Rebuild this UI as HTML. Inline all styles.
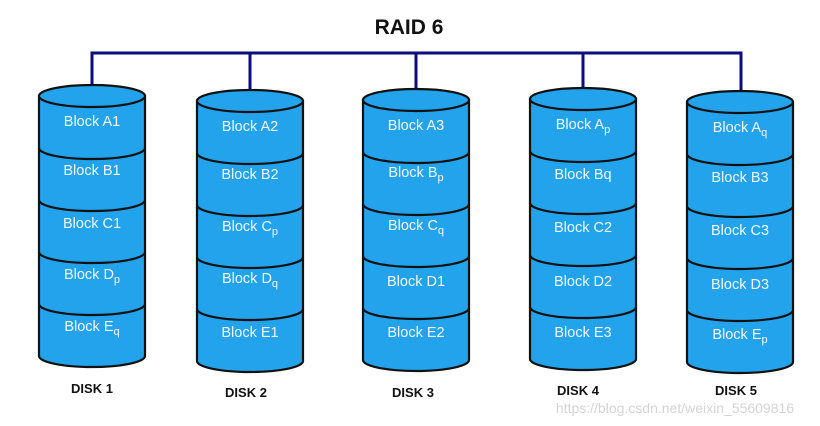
<!DOCTYPE html>
<html><head><meta charset="utf-8"><style>
html,body{margin:0;padding:0;background:#fff;}
svg{display:block;}
.b{fill:#22a3eb;stroke:#111;stroke-width:2.2;}
.d{fill:none;stroke:#111;stroke-width:2.2;}
.t{font-family:"Liberation Sans",sans-serif;font-size:14.5px;fill:#f2f8ff;text-anchor:middle;}
.s{font-size:11px;}
.l{font-family:"Liberation Sans",sans-serif;font-size:13px;font-weight:bold;fill:#111;text-anchor:middle;}
</style></head><body>
<svg width="820" height="426" viewBox="0 0 820 426">
<text x="409" y="34" font-family="Liberation Sans,sans-serif" font-size="21" font-weight="bold" fill="#111" text-anchor="middle">RAID 6</text>
<g stroke="#0c0c7e" stroke-width="3" fill="none">
<path d="M92 86 V53 H741 V91"/>
<path d="M250 53 V90"/><path d="M416 53 V89"/><path d="M583 53 V88"/>
</g>
<!-- disk1 -->
<path class="b" d="M39 96 V356 A53 11 0 0 0 145 356 V96 Z"/>
<ellipse class="b" cx="92" cy="96" rx="53" ry="11"/>
<path class="d" d="M39 148 A53 11 0 0 0 145 148 M39 200 A53 11 0 0 0 145 200 M39 252 A53 11 0 0 0 145 252 M39 304 A53 11 0 0 0 145 304"/>
<text class="t" x="92" y="126">Block A1</text>
<text class="t" x="92" y="175">Block B1</text>
<text class="t" x="92" y="228">Block C1</text>
<text class="t" x="92" y="279">Block D<tspan class="s" dy="4">p</tspan></text>
<text class="t" x="92" y="331">Block E<tspan class="s" dy="4">q</tspan></text>
<!-- disk2 -->
<path class="b" d="M197 101 V361 A53 11 0 0 0 303 361 V101 Z"/>
<ellipse class="b" cx="250" cy="101" rx="53" ry="11"/>
<path class="d" d="M197 153 A53 11 0 0 0 303 153 M197 205 A53 11 0 0 0 303 205 M197 257 A53 11 0 0 0 303 257 M197 309 A53 11 0 0 0 303 309"/>
<text class="t" x="250" y="131">Block A2</text>
<text class="t" x="250" y="179">Block B2</text>
<text class="t" x="250" y="231">Block C<tspan class="s" dy="4">p</tspan></text>
<text class="t" x="250" y="283">Block D<tspan class="s" dy="4">q</tspan></text>
<text class="t" x="250" y="337">Block E1</text>
<!-- disk3 -->
<path class="b" d="M363 100 V360 A53 11 0 0 0 469 360 V100 Z"/>
<ellipse class="b" cx="416" cy="100" rx="53" ry="11"/>
<path class="d" d="M363 152 A53 11 0 0 0 469 152 M363 204 A53 11 0 0 0 469 204 M363 256 A53 11 0 0 0 469 256 M363 308 A53 11 0 0 0 469 308"/>
<text class="t" x="416" y="130">Block A3</text>
<text class="t" x="416" y="177">Block B<tspan class="s" dy="4">p</tspan></text>
<text class="t" x="416" y="230">Block C<tspan class="s" dy="4">q</tspan></text>
<text class="t" x="416" y="286">Block D1</text>
<text class="t" x="416" y="337">Block E2</text>
<!-- disk4 -->
<path class="b" d="M530 99 V359 A53 11 0 0 0 636 359 V99 Z"/>
<ellipse class="b" cx="583" cy="99" rx="53" ry="11"/>
<path class="d" d="M530 151 A53 11 0 0 0 636 151 M530 203 A53 11 0 0 0 636 203 M530 255 A53 11 0 0 0 636 255 M530 307 A53 11 0 0 0 636 307"/>
<text class="t" x="583" y="129">Block A<tspan class="s" dy="4">p</tspan></text>
<text class="t" x="583" y="179">Block Bq</text>
<text class="t" x="583" y="232">Block C2</text>
<text class="t" x="583" y="286">Block D2</text>
<text class="t" x="583" y="337">Block E3</text>
<!-- disk5 -->
<path class="b" d="M687 102 V362 A53 11 0 0 0 793 362 V102 Z"/>
<ellipse class="b" cx="740" cy="102" rx="53" ry="11"/>
<path class="d" d="M687 154 A53 11 0 0 0 793 154 M687 206 A53 11 0 0 0 793 206 M687 258 A53 11 0 0 0 793 258 M687 310 A53 11 0 0 0 793 310"/>
<text class="t" x="740" y="132">Block A<tspan class="s" dy="4">q</tspan></text>
<text class="t" x="740" y="182">Block B3</text>
<text class="t" x="740" y="235">Block C3</text>
<text class="t" x="740" y="289">Block D3</text>
<text class="t" x="740" y="339">Block E<tspan class="s" dy="4">p</tspan></text>
<!-- labels -->
<text class="l" x="92" y="393">DISK 1</text>
<text class="l" x="246" y="397">DISK 2</text>
<text class="l" x="413" y="397">DISK 3</text>
<text class="l" x="578" y="395">DISK 4</text>
<text class="l" x="736" y="395">DISK  5</text>
<text x="675" y="413" font-family="Liberation Sans,sans-serif" font-size="14" fill="#d4d4d4" text-anchor="middle">https://blog.csdn.net/weixin_55609816</text>
</svg>
</body></html>
